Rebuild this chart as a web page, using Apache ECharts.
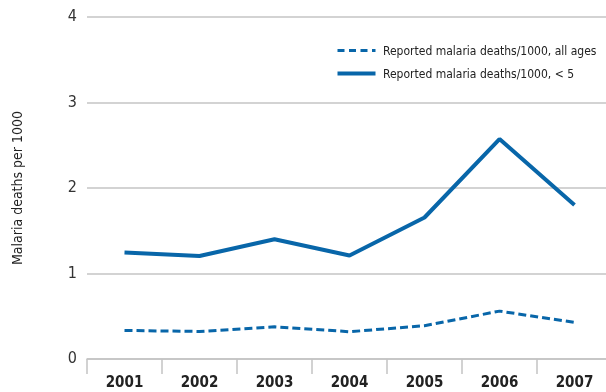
<!DOCTYPE html>
<html>
<head>
<meta charset="utf-8">
<script src="https://cdn.jsdelivr.net/npm/echarts@6/dist/echarts.min.js"></script>
<style>html,body{margin:0;padding:0;background:#fff}#c{width:606px;height:392px}</style>
</head>
<body>
<div id="c"></div>
<script>
var years = ['2001','2002','2003','2004','2005','2006','2007'];
var allAges = [0.334, 0.322, 0.377, 0.319, 0.389, 0.56, 0.428];
var under5 = [1.245, 1.205, 1.40, 1.21, 1.655, 2.573, 1.80];
var yTicks = [0, 1, 2, 3, 4];
var nameAll = 'Reported malaria deaths/1000, all ages';
var nameU5 = 'Reported malaria deaths/1000, < 5';

var FONT = '"DejaVu Sans Condensed", "DejaVu Sans", sans-serif';
var BLUE = '#0866a9';
var chart = echarts.init(document.getElementById('c'), null, {renderer: 'canvas'});
chart.setOption({
  animation: false,
  textStyle: {fontFamily: FONT},
  grid: {left: 87, right: -6, top: 17, bottom: 33, containLabel: false, outerBoundsMode: 'none'},
  legend: {
    orient: 'vertical', left: 335, top: 40, itemGap: 9, itemWidth: 38, itemHeight: 14,
    textStyle: {fontFamily: FONT, fontWeight: 'condensed', fontSize: 12, color: '#222', padding: [0, 0, 0, 12]},
    data: [
      {name: nameAll, icon: 'path://M0,0H1V1H0Z', itemStyle: {opacity: 0}},
      {name: nameU5, icon: 'path://M0,0H1V1H0Z', itemStyle: {opacity: 0}}
    ]
  },
  xAxis: {
    type: 'category', data: years, boundaryGap: true,
    axisLine: {lineStyle: {color: '#c4c4c4', width: 1.5}},
    axisTick: {show: true, length: 15, lineStyle: {color: '#c4c4c4', width: 1.5}},
    axisLabel: {fontFamily: FONT, fontSize: 15, fontWeight: 'bold condensed', color: '#222', margin: 17}
  },
  yAxis: {
    type: 'value', min: yTicks[0], max: yTicks[yTicks.length - 1], interval: 1,
    name: 'Malaria deaths per 1000', nameLocation: 'middle', nameGap: 62, nameRotate: 90,
    nameTextStyle: {fontFamily: FONT, fontWeight: 'condensed', fontSize: 14, color: '#222'},
    axisLine: {show: false}, axisTick: {show: false},
    axisLabel: {fontFamily: FONT, fontWeight: 'condensed', fontSize: 16, color: '#333', margin: 10},
    splitLine: {lineStyle: {color: '#c4c4c4', width: 1.5}}
  },
  series: [
    {name: nameAll, type: 'line', data: allAges, symbol: 'none', showSymbol: false,
     lineStyle: {color: BLUE, width: 3, type: [8, 4]}, itemStyle: {color: BLUE}},
    {name: nameU5, type: 'line', data: under5, symbol: 'none', showSymbol: false,
     lineStyle: {color: BLUE, width: 4}, itemStyle: {color: BLUE}}
  ],
  graphic: [
    {type: 'line', left: 335, top: 48, shape: {x1: 0, y1: 0, x2: 38, y2: 0},
     style: {stroke: BLUE, lineWidth: 3, lineDash: [7, 4.5]}},
    {type: 'line', left: 335, top: 71, shape: {x1: 0, y1: 0, x2: 38, y2: 0},
     style: {stroke: BLUE, lineWidth: 4}}
  ]
});
</script>
</body>
</html>
